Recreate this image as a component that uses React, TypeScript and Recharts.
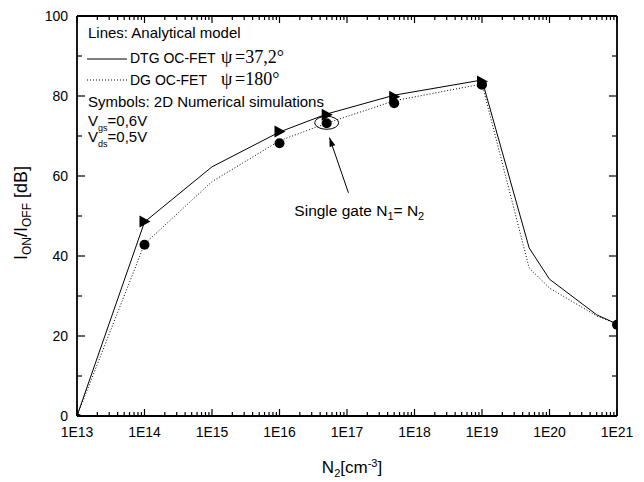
import React from 'react';
import { ComposedChart, Line, XAxis, YAxis } from 'recharts';

// Analytical model lines
const lineX = [1e13, 1e14, 1e15, 1e16, 5e16, 5e17, 1e19, 5e19, 1e20, 5e20, 1e21];
const dtgY = [0, 48.5, 62.3, 71.0, 75.5, 80.2, 84.0, 42.0, 34.2, 25.3, 23.0];
const dgY = [0, 43.0, 58.6, 68.8, 73.2, 78.8, 83.0, 37.0, 32.0, 25.0, 23.0];

// 2D numerical simulations (symbols)
const triX = [1e13, 1e14, 1e16, 5e16, 5e17, 1e19];
const triY = [0, 48.6, 71.1, 75.3, 79.8, 83.6];
const circX = [1e14, 1e16, 5e16, 5e17, 1e19, 1e21];
const circY = [42.8, 68.2, 73.2, 78.2, 82.8, 22.8];

// annotation anchors (data coordinates)
const ellipseAt = [{ x: 5e16, y: 73.3 }];
const arrowPath = [
  { x: 1.05e17, y: 55.8 },
  { x: 5.5e16, y: 69.6 },
];
const annotAt = [{ x: 1.66e16, y: 50 }];

// axes
const decades = [1e13, 1e14, 1e15, 1e16, 1e17, 1e18, 1e19, 1e20, 1e21];
const decadeLabels = ['1E13', '1E14', '1E15', '1E16', '1E17', '1E18', '1E19', '1E20', '1E21'];
const minorMult = [2, 3, 4, 5, 6, 7, 8, 9];
const yTicks = [0, 10, 20, 30, 40, 50, 60, 70, 80, 90, 100];
const yLabelTicks = [0, 20, 40, 60, 80, 100];

const xTicks: number[] = [];
decades.forEach((d, i) => {
  xTicks.push(d);
  if (i < decades.length - 1) minorMult.forEach((m) => xTicks.push(d * m));
});

const dtgData = lineX.map((x, i) => ({ x, y: dtgY[i] }));
const dgData = lineX.map((x, i) => ({ x, y: dgY[i] }));
const triData = triX.map((x, i) => ({ x, y: triY[i] }));
const circData = circX.map((x, i) => ({ x, y: circY[i] }));

const FONT = '"Liberation Sans", Arial, Helvetica, sans-serif';
const SERIF = '"Liberation Serif", "Times New Roman", serif';
const INK = '#000';

const isDecade = (v: number) => Math.abs(Math.log10(v) - Math.round(Math.log10(v))) < 1e-6;

const BottomTick = (p: any) => {
  const v = p.payload.value;
  const major = isDecade(v);
  const idx = decades.findIndex((d) => Math.abs(Math.log10(d) - Math.log10(v)) < 1e-6);
  return (
    <g>
      <line x1={p.x} x2={p.x} y1={p.y} y2={p.y - (major ? 7 : 4)} stroke={INK} strokeWidth={1.2} />
      {major && idx >= 0 && (
        <text x={p.x} y={p.y + 21} textAnchor="middle" fontSize={14} fontFamily={FONT} fill="#000">
          {decadeLabels[idx]}
        </text>
      )}
    </g>
  );
};

const TopTick = (p: any) => {
  const major = isDecade(p.payload.value);
  return <line x1={p.x} x2={p.x} y1={p.y} y2={p.y + (major ? 7 : 4)} stroke={INK} strokeWidth={1.2} />;
};

const LeftTick = (p: any) => {
  const v = p.payload.value;
  const major = yLabelTicks.includes(v);
  return (
    <g>
      <line x1={p.x} x2={p.x + (major ? 8 : 5)} y1={p.y} y2={p.y} stroke={INK} strokeWidth={1.2} />
      {major && (
        <text x={p.x - 9} y={p.y + 5} textAnchor="end" fontSize={14} fontFamily={FONT} fill="#000">
          {v}
        </text>
      )}
    </g>
  );
};

const RightTick = (p: any) => {
  const major = yLabelTicks.includes(p.payload.value);
  return <line x1={p.x} x2={p.x - (major ? 8 : 5)} y1={p.y} y2={p.y} stroke={INK} strokeWidth={1.2} />;
};

const Triangle = (p: any) => {
  const { cx, cy } = p;
  if (cx == null || cy == null) return <g key={p.key} />;
  return (
    <polygon key={p.key} points={`${cx - 5},${cy - 6} ${cx - 5},${cy + 6} ${cx + 6},${cy}`} fill="#000" />
  );
};

const Dot = (p: any) => {
  const { cx, cy } = p;
  if (cx == null || cy == null) return <g key={p.key} />;
  return <circle key={p.key} cx={cx} cy={cy} r={5} fill="#000" stroke="none" />;
};

const EllipseDot = (p: any) => {
  if (p.cx == null) return <g key={p.key} />;
  return <ellipse key={p.key} cx={p.cx} cy={p.cy} rx={12} ry={6.5} fill="none" stroke="#000" strokeWidth={1} />;
};

const ArrowHead = (p: any) => {
  if (p.cx == null || p.index !== 1) return <g key={p.key} />;
  const pts = p.points;
  let ux = -0.32;
  let uy = -0.95;
  if (pts && pts.length === 2 && pts[0].x != null) {
    const dx = pts[1].x - pts[0].x;
    const dy = pts[1].y - pts[0].y;
    const len = Math.sqrt(dx * dx + dy * dy) || 1;
    ux = dx / len;
    uy = dy / len;
  }
  const hl = 9;
  const hw = 3;
  const bx = p.cx - ux * hl;
  const by = p.cy - uy * hl;
  return (
    <polygon
      key={p.key}
      points={`${p.cx},${p.cy} ${bx - uy * hw},${by + ux * hw} ${bx + uy * hw},${by - ux * hw}`}
      fill="#000"
      stroke="none"
    />
  );
};

const AnnotText = (p: any) => {
  if (p.cx == null) return <g key={p.key} />;
  return (
    <text key={p.key} x={p.cx} y={p.cy} fontSize={15.5} fontFamily={FONT} fill="#000" stroke="none">
      Single gate N<tspan fontSize={11} dy={4}>1</tspan>
      <tspan dy={-4}>= N</tspan>
      <tspan fontSize={11} dy={4}>2</tspan>
    </text>
  );
};

export default function App() {
  return (
    <div style={{ position: 'relative', width: 636, height: 474 }}>
      <svg width={636} height={474} style={{ position: 'absolute', left: 0, top: 0 }}>
        <g fontFamily={FONT} fill="#000">
          <text x={80} y={30} fontSize={15}>Lines: Analytical model</text>
          <line x1={79} x2={119} y1={51} y2={51} stroke="#000" strokeWidth={1} />
          <text x={122} y={55} fontSize={14}>DTG OC-FET</text>
          <text x={213} y={55} fontSize={18} fontFamily={SERIF}>ψ</text>
          <text x={227} y={55} fontSize={18} fontFamily={SERIF}>=37,2°</text>
          <line x1={79} x2={119} y1={72} y2={72} stroke="#000" strokeWidth={1} strokeDasharray="1 2" />
          <text x={122} y={77} fontSize={14}>DG OC-FET</text>
          <text x={213} y={77} fontSize={18} fontFamily={SERIF}>ψ</text>
          <text x={227} y={77} fontSize={18} fontFamily={SERIF}>=180°</text>
          <text x={80} y={99} fontSize={15}>Symbols: 2D Numerical simulations</text>
          <text x={80} y={118} fontSize={15}>
            V<tspan fontSize={9} dy={5}>gs</tspan>
            <tspan dy={-5}>=0,6V</tspan>
          </text>
          <text x={80} y={134} fontSize={15}>
            V<tspan fontSize={9} dy={5}>ds</tspan>
            <tspan dy={-5}>=0,5V</tspan>
          </text>
          <text x={19} y={205} fontSize={18} textAnchor="middle" transform="rotate(-90, 19, 205)">
            I<tspan fontSize={12} dy={4}>ON</tspan>
            <tspan dy={-4}>/I</tspan>
            <tspan fontSize={12} dy={4}>OFF</tspan>
            <tspan dy={-4}> [dB]</tspan>
          </text>
          <text x={344} y={465} fontSize={17} textAnchor="middle">
            N<tspan fontSize={11} dy={4}>2</tspan>
            <tspan dy={-4}>[cm</tspan>
            <tspan fontSize={11} dy={-6}>-3</tspan>
            <tspan dy={6}>]</tspan>
          </text>
        </g>
      </svg>
      <div style={{ position: 'absolute', left: 0, top: 0 }}>
        <ComposedChart width={636} height={474} margin={{ top: 7, right: 26, bottom: 36, left: 0 }}>
          <XAxis
            dataKey="x"
            type="number"
            scale="log"
            domain={[1e13, 1e21]}
            allowDataOverflow
            ticks={xTicks}
            interval={0}
            tick={<BottomTick />}
            tickLine={false}
            tickSize={0}
            tickMargin={0}
            height={30}
            axisLine={{ stroke: INK, strokeWidth: 1.8 }}
          />
          <XAxis
            xAxisId="top"
            orientation="top"
            dataKey="x"
            type="number"
            scale="log"
            domain={[1e13, 1e21]}
            allowDataOverflow
            ticks={xTicks}
            interval={0}
            tick={<TopTick />}
            tickLine={false}
            tickSize={0}
            tickMargin={0}
            height={1}
            axisLine={{ stroke: INK, strokeWidth: 1.8 }}
          />
          <YAxis
            type="number"
            domain={[0, 100]}
            allowDataOverflow
            ticks={yTicks}
            interval={0}
            tick={<LeftTick />}
            tickLine={false}
            tickSize={0}
            tickMargin={0}
            width={69}
            axisLine={{ stroke: INK, strokeWidth: 1.8 }}
          />
          <YAxis
            yAxisId="right"
            orientation="right"
            type="number"
            domain={[0, 100]}
            allowDataOverflow
            ticks={yTicks}
            interval={0}
            tick={<RightTick />}
            tickLine={false}
            tickSize={0}
            tickMargin={0}
            width={1}
            axisLine={{ stroke: INK, strokeWidth: 1.8 }}
          />
          <Line data={dtgData} dataKey="y" type="linear" stroke="#000" strokeWidth={1} dot={false} activeDot={false} isAnimationActive={false} />
          <Line data={dgData} dataKey="y" type="linear" stroke="#000" strokeWidth={1} strokeDasharray="1 2" dot={false} activeDot={false} isAnimationActive={false} />
          <Line data={dtgData} dataKey="y" xAxisId="top" yAxisId="right" stroke="none" dot={false} activeDot={false} isAnimationActive={false} />
          <Line data={circData} dataKey="y" stroke="none" dot={<Dot />} activeDot={false} isAnimationActive={false} />
          <Line data={triData} dataKey="y" stroke="none" dot={<Triangle />} activeDot={false} isAnimationActive={false} />
          <Line data={ellipseAt} dataKey="y" stroke="none" dot={<EllipseDot />} activeDot={false} isAnimationActive={false} />
          <Line data={arrowPath} dataKey="y" stroke="#000" strokeWidth={1} dot={<ArrowHead />} activeDot={false} isAnimationActive={false} />
          <Line data={annotAt} dataKey="y" stroke="none" dot={<AnnotText />} activeDot={false} isAnimationActive={false} />
        </ComposedChart>
      </div>
    </div>
  );
}
